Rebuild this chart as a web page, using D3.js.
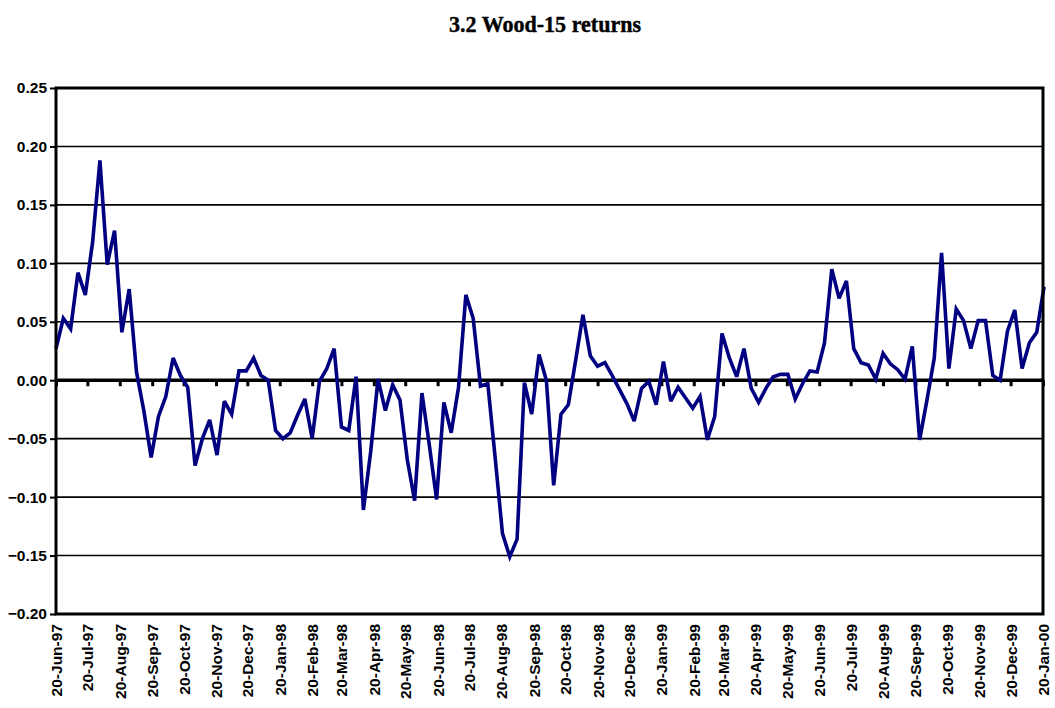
<!DOCTYPE html>
<html>
<head>
<meta charset="utf-8">
<script src="https://cdn.jsdelivr.net/npm/d3@7"></script>
<style>
  html, body { margin: 0; padding: 0; background: #fff; }
  svg { display: block; }
</style>
</head>
<body>
<script>
// Weekly returns of the Wood-15 index, one value per week starting 20-Jun-97
const firstWeek = "20-Jun-97";
const weeklyReturns = [
  0.027, 0.053, 0.044, 0.092, 0.073, 0.118, 0.188, 0.099, 0.128, 0.041,
  0.078, 0.007, -0.026, -0.066, -0.031, -0.014, 0.019, 0.004, -0.006, -0.073,
  -0.050, -0.034, -0.064, -0.018, -0.029, 0.008, 0.008, 0.019, 0.004, 0.000,
  -0.043, -0.050, -0.045, -0.030, -0.016, -0.050, -0.001, 0.010, 0.027, -0.040,
  -0.043, 0.003, -0.111, -0.061, 0.001, -0.026, -0.004, -0.017, -0.068, -0.103,
  -0.011, -0.055, -0.102, -0.019, -0.045, -0.006, 0.073, 0.053, -0.005, -0.003,
  -0.066, -0.131, -0.151, -0.136, -0.002, -0.029, 0.022, 0.000, -0.090, -0.029,
  -0.021, 0.017, 0.056, 0.021, 0.012, 0.015, 0.004, -0.008, -0.020, -0.035,
  -0.007, -0.001, -0.021, 0.016, -0.018, -0.006, -0.015, -0.024, -0.014, -0.051,
  -0.031, 0.040, 0.019, 0.003, 0.027, -0.007, -0.019, -0.007, 0.003, 0.005,
  0.005, -0.016, -0.003, 0.008, 0.007, 0.032, 0.095, 0.070, 0.085, 0.027,
  0.015, 0.013, 0.001, 0.023, 0.014, 0.009, 0.001, 0.029, -0.051, -0.017,
  0.019, 0.109, 0.010, 0.061, 0.051, 0.027, 0.051, 0.051, 0.004, 0.000,
  0.042, 0.060, 0.010, 0.032, 0.041, 0.080
];

// Category axis labels (20th of each month)
const xTickLabels = [
  "20-Jun-97", "20-Jul-97", "20-Aug-97", "20-Sep-97", "20-Oct-97", "20-Nov-97",
  "20-Dec-97", "20-Jan-98", "20-Feb-98", "20-Mar-98", "20-Apr-98", "20-May-98",
  "20-Jun-98", "20-Jul-98", "20-Aug-98", "20-Sep-98", "20-Oct-98", "20-Nov-98",
  "20-Dec-98", "20-Jan-99", "20-Feb-99", "20-Mar-99", "20-Apr-99", "20-May-99",
  "20-Jun-99", "20-Jul-99", "20-Aug-99", "20-Sep-99", "20-Oct-99", "20-Nov-99",
  "20-Dec-99", "20-Jan-00"
];

// Value axis ticks
const yTicks = [-0.20, -0.15, -0.10, -0.05, 0.00, 0.05, 0.10, 0.15, 0.20, 0.25];

const titleText = "3.2 Wood-15 returns";

const W = 1055, H = 708;
const plot = { left: 56, right: 1043, top: 88, bottom: 614 };

const parse = d3.timeParse("%d-%b-%y");
const fmtDate = d3.timeFormat("%d-%b-%y");
const start = parse(firstWeek);
const series = weeklyReturns.map((v, i) => ({ date: d3.timeDay.offset(start, 7 * i), value: v }));
const tickDates = xTickLabels.map(parse);

const x = d3.scaleTime()
  .domain([start, tickDates[tickDates.length - 1]])
  .range([plot.left, plot.right]);
const y = d3.scaleLinear()
  .domain([-0.20, 0.25])
  .range([plot.bottom, plot.top]);

const svg = d3.select("body").append("svg")
  .attr("width", W).attr("height", H);

// Title
svg.append("text")
  .attr("x", 545).attr("y", 32)
  .attr("text-anchor", "middle")
  .attr("font-family", "'Liberation Serif', 'DejaVu Serif', serif")
  .attr("font-weight", "bold")
  .attr("font-size", 23)
  .attr("textLength", 192)
  .attr("lengthAdjust", "spacingAndGlyphs")
  .attr("stroke", "#000")
  .attr("stroke-width", 0.4)
  .attr("fill", "#000")
  .text(titleText);

// Horizontal gridlines
svg.append("g")
  .selectAll("line")
  .data(yTicks.filter(t => t !== 0))
  .join("line")
  .attr("x1", plot.left).attr("x2", plot.right)
  .attr("y1", d => y(d)).attr("y2", d => y(d))
  .attr("stroke", "#000").attr("stroke-width", 1.6);

// Value axis on the left
const yAxis = d3.axisLeft(y)
  .tickValues(yTicks)
  .tickFormat(d3.format(".2f"))
  .tickSize(6)
  .tickPadding(3);
const gy = svg.append("g")
  .attr("transform", `translate(${plot.left},0)`)
  .call(yAxis);
gy.select(".domain").remove();
gy.selectAll(".tick line").attr("stroke", "#000").attr("stroke-width", 2);
gy.selectAll(".tick text")
  .attr("font-family", "'Liberation Sans', Arial, sans-serif")
  .attr("font-weight", "bold")
  .attr("font-size", 15.5)
  .attr("fill", "#000");

// Category axis crossing at zero, ticks pointing down
const xAxisZero = d3.axisBottom(x)
  .tickValues(tickDates)
  .tickFormat("")
  .tickSize(6);
const gx0 = svg.append("g")
  .attr("transform", `translate(0,${y(0)})`)
  .call(xAxisZero);
gx0.select(".domain").remove();
gx0.selectAll(".tick line").attr("stroke", "#000").attr("stroke-width", 3);

// Date labels below the plot, rotated
const gxl = svg.append("g")
  .attr("transform", `translate(0,${plot.bottom})`)
  .call(d3.axisBottom(x).tickValues(tickDates).tickFormat(fmtDate).tickSize(0));
gxl.select(".domain").remove();
gxl.selectAll(".tick text")
  .attr("font-family", "'Liberation Sans', Arial, sans-serif")
  .attr("font-weight", "bold")
  .attr("font-size", 15.5)
  .attr("fill", "#000")
  .attr("text-anchor", "end")
  .attr("dy", null)
  .attr("y", 0)
  .attr("transform", "translate(0,10) rotate(-90)")
  .attr("dominant-baseline", "central");

// Zero line
svg.append("line")
  .attr("x1", plot.left).attr("x2", plot.right)
  .attr("y1", y(0)).attr("y2", y(0))
  .attr("stroke", "#000").attr("stroke-width", 3.5);

// Returns line
const line = d3.line()
  .x(d => x(d.date))
  .y(d => y(d.value));
svg.append("path")
  .datum(series)
  .attr("d", line)
  .attr("fill", "none")
  .attr("stroke", "#000080")
  .attr("stroke-width", 3.6)
  .attr("stroke-linejoin", "miter")
  .attr("stroke-miterlimit", 3);

// Plot frame
svg.append("rect")
  .attr("x", plot.left).attr("y", plot.top)
  .attr("width", plot.right - plot.left)
  .attr("height", plot.bottom - plot.top)
  .attr("fill", "none")
  .attr("stroke", "#000").attr("stroke-width", 3);
</script>
</body>
</html>
